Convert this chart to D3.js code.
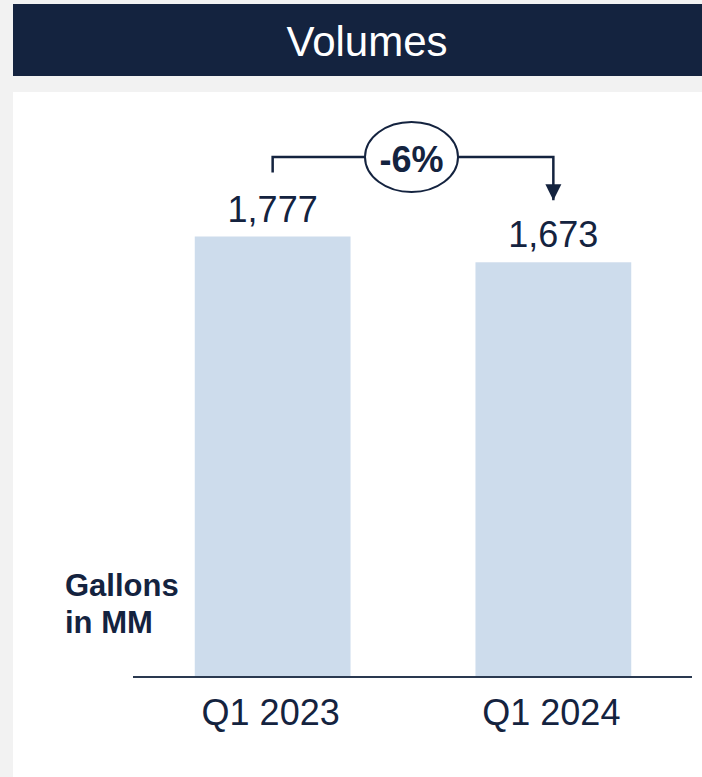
<!DOCTYPE html>
<html>
<head>
<meta charset="utf-8">
<script src="https://cdn.jsdelivr.net/npm/d3@7"></script>
<style>
  body { margin: 0; background: #f2f2f2; }
  svg { display: block; font-family: "Liberation Sans", Arial, sans-serif; }
</style>
</head>
<body>
<div class="chart"></div>
<script>
const quarters = ["Q1 2023", "Q1 2024"];
const volumes = [1777, 1673];
const changeLabel = "-6%";
const unitLines = ["Gallons", "in MM"];
const title = "Volumes";

const width = 702;
const height = 777;
const navy = "#14233f";

const svg = d3
  .select(".chart")
  .append("svg")
  .attr("width", width)
  .attr("height", height);

// grey page, header bar and white panel
svg.append("rect").attr("width", width).attr("height", height).attr("fill", "#f2f2f2");
svg.append("rect").attr("x", 13).attr("y", 4).attr("width", width - 13).attr("height", 72).attr("fill", navy);
svg.append("rect").attr("x", 13).attr("y", 92).attr("width", width - 13).attr("height", height - 92).attr("fill", "#fff");

svg
  .append("text")
  .attr("x", 367)
  .attr("y", 56)
  .attr("text-anchor", "middle")
  .attr("fill", "#fff")
  .style("font-size", "42px")
  .text(title);

const x = d3
  .scaleBand()
  .domain(quarters)
  .range([133, 693])
  .paddingInner(0.445)
  .paddingOuter(0.22);

const y = d3.scaleLinear().domain([0, 1777]).range([677, 236.5]);

const data = quarters.map((q, i) => ({ q, v: volumes[i] }));

// bars
svg
  .selectAll(".bar")
  .data(data)
  .join("rect")
  .attr("class", "bar")
  .attr("x", (d) => x(d.q))
  .attr("y", (d) => y(d.v))
  .attr("width", x.bandwidth())
  .attr("height", (d) => y(0) - y(d.v))
  .attr("fill", "#cddcec");

// value labels
svg
  .selectAll(".val")
  .data(data)
  .join("text")
  .attr("class", "val")
  .attr("x", (d) => x(d.q) + x.bandwidth() / 2)
  .attr("y", (d) => y(d.v) - 15)
  .attr("text-anchor", "middle")
  .attr("fill", navy)
  .style("font-size", "36px")
  .text((d) => d3.format(",")(d.v));

// baseline axis
const xAxis = d3.axisBottom(x).tickSize(0).tickPadding(22);
const gx = svg.append("g").attr("transform", `translate(0,${y(0)})`).call(xAxis);
gx.select(".domain").remove();
gx.selectAll("text")
  .attr("fill", navy)
  .attr("dx", -2)
  .style("font-size", "36px")
  .attr("dy", "0.71em");
svg
  .append("line")
  .attr("x1", 133)
  .attr("x2", 692)
  .attr("y1", y(0))
  .attr("y2", y(0))
  .attr("stroke", "#2a3950")
  .attr("stroke-width", 2);

// unit label
svg
  .append("text")
  .attr("x", 65)
  .attr("y", 596)
  .attr("fill", navy)
  .style("font-size", "31px")
  .style("font-weight", "bold")
  .selectAll("tspan")
  .data(unitLines)
  .join("tspan")
  .attr("x", 65)
  .attr("dy", (d, i) => (i === 0 ? 0 : 37))
  .text((d) => d);

// change bracket with arrow
const cx1 = x(quarters[0]) + x.bandwidth() / 2;
const cx2 = x(quarters[1]) + x.bandwidth() / 2;
const lineY = 157;
const midX = 411.5;

svg
  .append("defs")
  .append("marker")
  .attr("id", "arrow")
  .attr("viewBox", "0 0 10 10")
  .attr("refX", 10)
  .attr("refY", 5)
  .attr("markerWidth", 16)
  .attr("markerHeight", 18)
  .attr("markerUnits", "userSpaceOnUse")
  .attr("orient", "auto")
  .append("path")
  .attr("d", "M0,0L10,5L0,10Z")
  .attr("fill", navy);

svg
  .append("path")
  .attr("d", `M${cx1},${y(1777) - 64}V${lineY}H${cx2}V${y(1673) - 62}`)
  .attr("fill", "none")
  .attr("stroke", navy)
  .attr("stroke-width", 2.5)
  .attr("marker-end", "url(#arrow)");

svg
  .append("ellipse")
  .attr("cx", midX)
  .attr("cy", lineY)
  .attr("rx", 46.5)
  .attr("ry", 35)
  .attr("fill", "#fff")
  .attr("stroke", navy)
  .attr("stroke-width", 2);

svg
  .append("text")
  .attr("x", midX)
  .attr("y", 172)
  .attr("text-anchor", "middle")
  .attr("fill", navy)
  .style("font-size", "36px")
  .style("font-weight", "bold")
  .text(changeLabel);
</script>
</body>
</html>
